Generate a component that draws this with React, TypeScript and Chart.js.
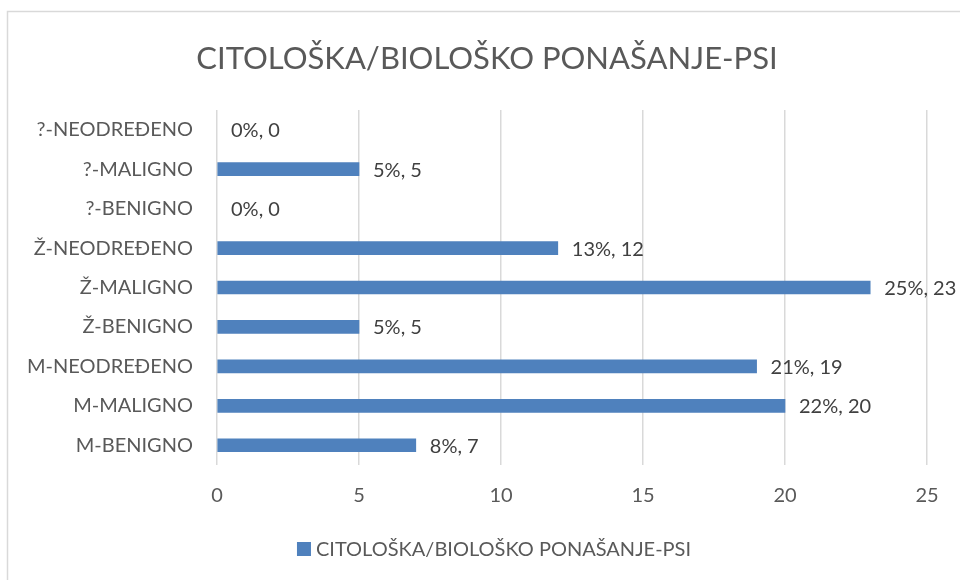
import React, { useEffect, useRef } from "react";
import { Chart, registerables } from "chart.js";

Chart.register(...registerables);

const TITLE = "CITOLOŠKA/BIOLOŠKO PONAŠANJE-PSI";
const categories = [
  "?-NEODREĐENO",
  "?-MALIGNO",
  "?-BENIGNO",
  "Ž-NEODREĐENO",
  "Ž-MALIGNO",
  "Ž-BENIGNO",
  "M-NEODREĐENO",
  "M-MALIGNO",
  "M-BENIGNO",
];
const counts = [0, 5, 0, 12, 23, 5, 19, 20, 7];
const percents = [0, 5, 0, 13, 25, 5, 21, 22, 8];
const xTicks = [0, 5, 10, 15, 20, 25];

const FONT = "Lato, 'Open Sans', sans-serif";
const AXIS_COLOR = "#595959";
const LABEL_COLOR = "#404040";
const BAR_COLOR = "#4F81BD";

const decorPlugin = {
  id: "decor",
  afterDraw(chart: any) {
    const ctx = chart.ctx as CanvasRenderingContext2D;
    ctx.save();
    // outer chart border
    ctx.strokeStyle = "#D9D9D9";
    ctx.lineWidth = 1.5;
    ctx.strokeRect(7.5, 11.5, 1000, 1000);

    // title
    ctx.fillStyle = AXIS_COLOR;
    ctx.font = `31px ${FONT}`;
    ctx.textAlign = "center";
    ctx.textBaseline = "alphabetic";
    ctx.fillText(TITLE, 487, 69);

    // data labels
    const meta = chart.getDatasetMeta(0);
    ctx.font = `20px ${FONT}`;
    ctx.fillStyle = LABEL_COLOR;
    ctx.textAlign = "left";
    ctx.textBaseline = "middle";
    meta.data.forEach((bar: any, i: number) => {
      const txt = `${percents[i]}%, ${counts[i]}`;
      ctx.fillText(txt, bar.x + 14, bar.y + 1);
    });

    // legend
    ctx.font = `20px ${FONT}`;
    const legendText = TITLE;
    const tw = ctx.measureText(legendText).width;
    const box = 14;
    const gap = 5;
    const total = box + gap + tw;
    const lx = 494 - total / 2;
    ctx.fillStyle = BAR_COLOR;
    ctx.fillRect(lx, 542, box, box);
    ctx.fillStyle = AXIS_COLOR;
    ctx.textBaseline = "alphabetic";
    ctx.fillText(legendText, lx + box + gap, 556);
    ctx.restore();
  },
};

export default function App() {
  const ref = useRef<HTMLCanvasElement | null>(null);
  useEffect(() => {
    if (!ref.current) return;
    const chart = new Chart(ref.current, {
      type: "bar",
      data: {
        labels: categories,
        datasets: [
          {
            label: TITLE,
            data: counts,
            backgroundColor: (c: any) => (c.raw === 0 ? "rgba(0,0,0,0)" : BAR_COLOR),
            barThickness: 13,
          },
        ],
      },
      options: {
        indexAxis: "y",
        animation: false,
        responsive: false,
        maintainAspectRatio: false,
        layout: { padding: { top: 110, right: 33, bottom: 55, left: 0 } },
        plugins: {
          legend: { display: false },
          title: { display: false },
          tooltip: { enabled: false },
        },
        scales: {
          x: {
            min: 0,
            max: 25,
            afterBuildTicks: (scale: any) => {
              scale.ticks = xTicks.map((v) => ({ value: v }));
            },
            afterFit: (scale: any) => {
              scale.height = 60;
            },
            grid: {
              color: "#D9D9D9",
              lineWidth: 1.5,
              drawTicks: false,
            },
            border: { display: false },
            ticks: {
              color: AXIS_COLOR,
              font: { family: FONT, size: 20 },
              padding: 19,
            },
          },
          y: {
            afterFit: (scale: any) => {
              scale.width = 217;
            },
            grid: { display: false, drawTicks: false },
            border: { display: false },
            ticks: {
              color: AXIS_COLOR,
              font: { family: FONT, size: 20 },
              padding: 24,
            },
          },
        },
      },
      plugins: [decorPlugin],
    });
    return () => chart.destroy();
  }, []);
  return (
    <div style={{ position: "fixed", left: 0, top: 0, width: 960, height: 580, background: "#fff" }}>
      <canvas ref={ref} width={960} height={580} style={{ width: 960, height: 580 }} />
    </div>
  );
}
